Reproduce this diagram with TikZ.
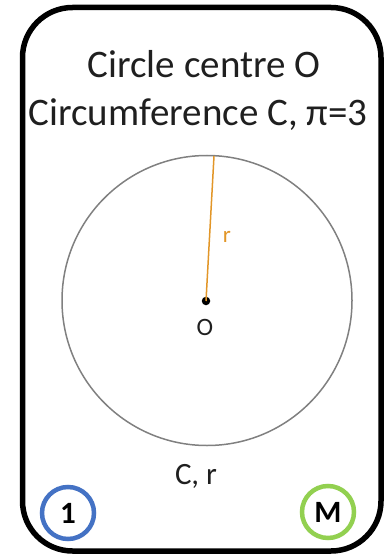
\documentclass[tikz,border=0pt]{standalone}
\usepackage{fontspec}
\setmainfont{Carlito}
\definecolor{rad}{RGB}{226,150,40}
\definecolor{badgeblue}{RGB}{68,114,196}
\definecolor{badgegreen}{RGB}{146,208,80}
\begin{document}
\begin{tikzpicture}[x=1pt,y=-1pt,
  card/.style={draw=black,line width=5.5pt,rounded corners=50pt},
  title/.style={anchor=base,inner sep=0pt,font=\fontsize{39}{42}\selectfont,text=black!88},
  small/.style={anchor=base,inner sep=0pt,font=\fontsize{25}{28}\selectfont,text=black!88},
  badge/.style={circle,line width=4.5pt,minimum size=52pt,inner sep=0pt,font=\bfseries\fontsize{31}{33}\selectfont},
  radius/.style={draw=rad,line width=1.5pt}]
\useasboundingbox (0,0) rectangle (386,556);
\node[card,minimum width=358.5pt,minimum height=543.5pt,inner sep=0pt] (card) at (201.75,279.25) {};
\node[title] (t1) at (204,78) {Circle centre O};
\node[title] (t2) at (198,126) {Circumference C, π=3};
\node[draw=black!50,line width=1.5pt,circle,minimum size=290pt,inner sep=0pt] (circ) at (207,300.5) {};
\coordinate (top) at (214,156);
\node[circle,fill=black,minimum size=8.5pt,inner sep=0pt] (O) at (206,301) {};
\draw[radius] (O.center) -- (top);
\node[small,text=rad,font=\fontsize{23}{26}\selectfont] (r) at (227,242) {r};
\node[small] (Olab) at (205,335) {O};
\node[small,font=\fontsize{31}{33}\selectfont] (cr) at (196,484) {C, r};
\node[badge,draw=badgeblue] (one) at (68,513) {1};
\node[badge,draw=badgegreen] (m) at (328,512) {M};
\end{tikzpicture}
\end{document}
